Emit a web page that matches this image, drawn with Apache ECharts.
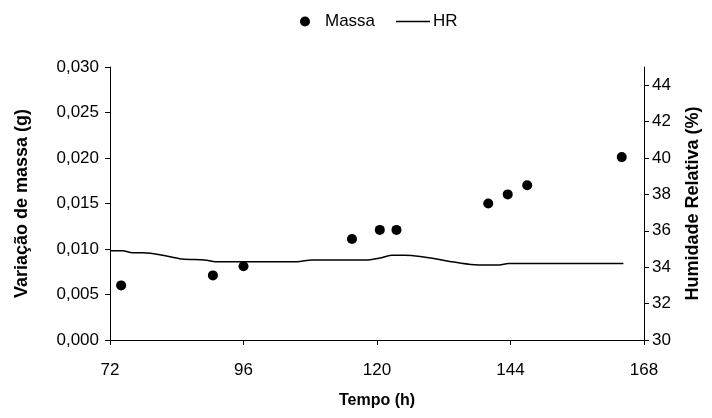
<!DOCTYPE html>
<html>
<head>
<meta charset="utf-8">
<script src="https://cdn.jsdelivr.net/npm/echarts@6/dist/echarts.min.js"></script>
<style>html,body{margin:0;padding:0;background:#fff}#c{width:712px;height:418px}</style>
</head>
<body>
<div id="c"></div>
<script>
// Massa (variação de massa, g) vs Tempo (h)
var massTime = [74, 90.5, 96, 115.5, 120.5, 123.5, 140, 143.5, 147, 164];
var massValue = [0.006, 0.0071, 0.0081, 0.0111, 0.0121, 0.0121, 0.0150, 0.0160, 0.0170, 0.0201];
// HR (humidade relativa, %) vs Tempo (h)
var hrTime = [72, 74.3, 76, 78, 82.4, 85, 89, 91, 105.6, 108.3, 118.4, 120.5, 122.6, 125, 138.8, 142, 143.6, 164.3];
var hrValue = [34.9, 34.9, 34.8, 34.8, 34.6, 34.45, 34.4, 34.3, 34.3, 34.4, 34.4, 34.5, 34.65, 34.65, 34.12, 34.12, 34.2, 34.2];
// axis ticks
var xTicks = [72, 96, 120, 144, 168];
var hrTicks = [30, 32, 34, 36, 38, 40, 42, 44];

var FONT = 'Liberation Sans, Arial, sans-serif';
var massData = massTime.map(function (t, i) { return [t, massValue[i]]; });
var hrData = hrTime.map(function (t, i) { return [t, hrValue[i]]; });

var chart = echarts.init(document.getElementById('c'), null, {renderer: 'canvas'});
chart.setOption({
  animation: false,
  backgroundColor: '#fff',
  textStyle: {fontFamily: FONT},
  grid: {left: 110, right: 68, top: 67, bottom: 78, containLabel: false},
  legend: [{
    data: [{name: 'Massa', icon: 'circle'}],
    left: 295, top: 8,
    itemWidth: 10, itemHeight: 10,
    textStyle: {fontFamily: FONT, fontSize: 17, color: '#000', padding: [0, 0, 0, 10]}
  }, {
    data: [{name: 'HR', icon: 'rect'}],
    left: 391, top: 8,
    itemWidth: 34, itemHeight: 1.5,
    textStyle: {fontFamily: FONT, fontSize: 17, color: '#000', padding: [0, 0, 0, -2]}
  }],
  xAxis: {
    type: 'value', min: 72, max: 168, interval: 24,
    name: 'Tempo (h)', nameLocation: 'middle', nameGap: 53,
    nameTextStyle: {fontFamily: FONT, fontSize: 16, fontWeight: 'bold', color: '#000'},
    axisLine: {lineStyle: {color: '#000', width: 1}},
    axisTick: {show: true, length: 5, lineStyle: {color: '#000'}, customValues: xTicks},
    axisLabel: {fontFamily: FONT, fontSize: 17, color: '#000', margin: 22, customValues: xTicks},
    splitLine: {show: false}
  },
  yAxis: [{
    type: 'value', min: 0, max: 0.03, interval: 0.005, position: 'left',
    name: 'Variação de massa (g)', nameLocation: 'middle', nameGap: 79, nameRotate: 90,
    nameTextStyle: {fontFamily: FONT, fontSize: 18, fontWeight: 'bold', color: '#000'},
    axisLine: {show: true, lineStyle: {color: '#000', width: 1}},
    axisTick: {show: true, length: 5, lineStyle: {color: '#000'}},
    axisLabel: {fontFamily: FONT, fontSize: 17, color: '#000', margin: 11,
      formatter: function (v) { return v.toFixed(3).replace('.', ','); }},
    splitLine: {show: false}
  }, {
    type: 'value', min: 30, max: 45, interval: 2, position: 'right',
    name: 'Humidade Relativa (%)', nameLocation: 'middle', nameGap: 40, nameRotate: 90,
    nameTextStyle: {fontFamily: FONT, fontSize: 18, fontWeight: 'bold', color: '#000'},
    axisLine: {show: true, lineStyle: {color: '#000', width: 1}},
    axisTick: {show: true, length: 5, lineStyle: {color: '#000'}, customValues: hrTicks},
    axisLabel: {fontFamily: FONT, fontSize: 17, color: '#000', margin: 8, customValues: hrTicks},
    splitLine: {show: false}
  }],
  series: [{
    name: 'Massa', type: 'scatter', yAxisIndex: 0,
    data: massData, symbol: 'circle', symbolSize: 10,
    itemStyle: {color: '#000', opacity: 1}
  }, {
    name: 'HR', type: 'line', yAxisIndex: 1,
    data: hrData, symbol: 'none', smooth: 0.3,
    lineStyle: {color: '#000', width: 1.5},
    itemStyle: {color: '#000'}
  }]
});
</script>
</body>
</html>
